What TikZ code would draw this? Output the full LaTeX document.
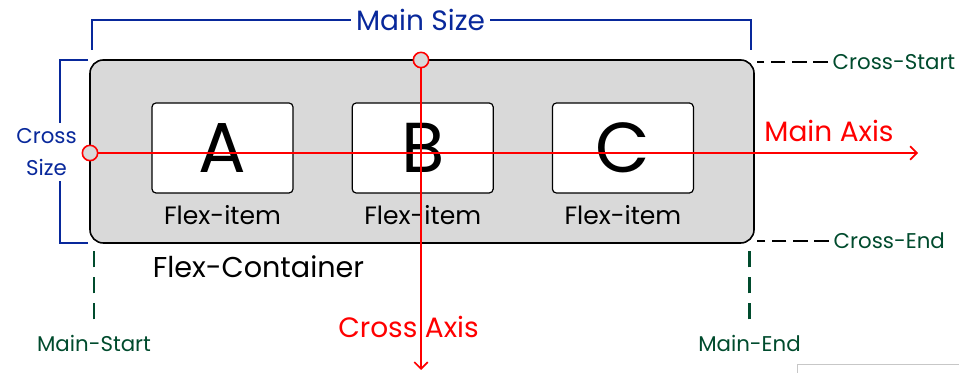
\documentclass[tikz,border=0pt]{standalone}
\usepackage{fontspec}
\setmainfont{Poppins}
\usetikzlibrary{arrows.meta,positioning,shapes}
\definecolor{sizeblue}{RGB}{8,40,155}
\definecolor{edgegreen}{RGB}{0,75,45}
\definecolor{boxgray}{RGB}{217,217,217}
\tikzset{
    %Define standard arrow tip
    >={Straight Barb[length=5pt,width=10pt]},
    %Define style for boxes
    container/.style={
           rectangle,
           rounded corners=10pt,
           draw=black, line width=1.2pt,
           fill=boxgray,
           minimum width=498pt,
           minimum height=137.25pt},
    item/.style={
           rectangle,
           rounded corners=3pt,
           draw=black, line width=0.9pt,
           fill=white,
           minimum width=105.75pt,
           minimum height=67.5pt,
           font=\fontsize{53}{53}\selectfont},
    itemlabel/.style={
           font=\fontsize{18.8}{20}\selectfont},
    sizelabel/.style={
           text=sizeblue,
           inner sep=4pt},
    edgelabel/.style={
           text=edgegreen,
           font=\fontsize{16}{18}\selectfont},
    axislabel/.style={
           text=red,
           font=\fontsize{21}{24}\selectfont},
    dot/.style={
           circle,
           draw=red, line width=1.2pt,
           fill=boxgray,
           inner sep=0pt,
           minimum size=11.5pt},
    % Define line styles
    axis/.style={
           ->,
           red,
           line width=1.3pt},
    bracket/.style={
           sizeblue,
           line width=1.6pt},
    crossdash/.style={
           black,
           line width=1.9pt,
           dash pattern=on 11pt off 5pt},
    maindash/.style={
           edgegreen,
           line width=1.9pt,
           dash pattern=on 12.5pt off 7pt}
}

\begin{document}
\begin{tikzpicture}[x=0.75pt,y=-0.75pt]
  \useasboundingbox (0,0) rectangle (959,373);

  % container and items
  \node[container] (box) at (422,151.5) {};
  \node[item] (a) at (222.5,148) {A};
  \node[item, right=43.5pt of a] (b) {B};
  \node[item, right=43.5pt of b] (c) {C};
  \node[itemlabel, below=5.5pt of a] (la) {Flex-item};
  \node[itemlabel, below=5.5pt of b] (lb) {Flex-item};
  \node[itemlabel, below=5.5pt of c] (lc) {Flex-item};
  \node[font=\fontsize{21.5}{24}\selectfont] (flex) at (258.5,267) {Flex-Container};

  % axes
  \node[dot] (mstart) at (90,153) {};
  \node[dot] (cstart) at (421,60) {};
  \coordinate (mend) at (918,153);
  \coordinate (cend) at (421,370);
  \draw[axis] (mstart.east) -- (mend);
  \draw[axis] (cstart.south) -- (cend);
  \node[axislabel] (maxis) at (829,131) {Main Axis};
  \node[axislabel] (caxis) at (408.5,327) {Cross Axis};

  % main size bracket
  \node[sizelabel, font=\fontsize{21}{22}\selectfont] (msize) at (420.5,20) {Main Size};
  \coordinate (ms-l) at (92,50);
  \coordinate (ms-r) at (751,50);
  \draw[bracket] (msize.west) -| (ms-l);
  \draw[bracket] (msize.east) -| (ms-r);

  % cross size bracket
  \node[sizelabel, align=center, font=\fontsize{16}{24}\selectfont] (csize) at (46.5,152) {Cross\\Size};
  \coordinate (cs-t) at (88,60);
  \coordinate (cs-b) at (88,243);
  \coordinate (cs-x) at (60,0);
  \draw[bracket] (cs-t) -- (cs-t -| cs-x) -- (csize.north -| cs-x);
  \draw[bracket] (cs-b) -- (cs-b -| cs-x) -- (csize.south -| cs-x);

  % start and end marks
  \node[edgelabel, anchor=west] (cstartl) at (828,62) {Cross-Start};
  \node[edgelabel, anchor=west] (cendl) at (829,241) {Cross-End};
  \node[edgelabel] (mstartl) at (94,343) {Main-Start};
  \node[edgelabel] (mendl) at (749.5,343) {Main-End};
  \draw[crossdash, shorten >=1.5pt] (cstartl.west) -- (cstartl.west -| box.east);
  \draw[crossdash, shorten >=1.5pt] (cendl.west) -- (cendl.west -| box.east);
  \draw[maindash, shorten <=8pt, shorten >=5pt] (mstartl.north) -- (box.south -| mstartl);
  \draw[maindash, shorten <=8pt, shorten >=5pt] (mendl.north) -- (box.south -| mendl);

  \draw[black!22, line width=0.6pt] (797,373) -- (797,364) -- (959,364);
\end{tikzpicture}
\end{document}
